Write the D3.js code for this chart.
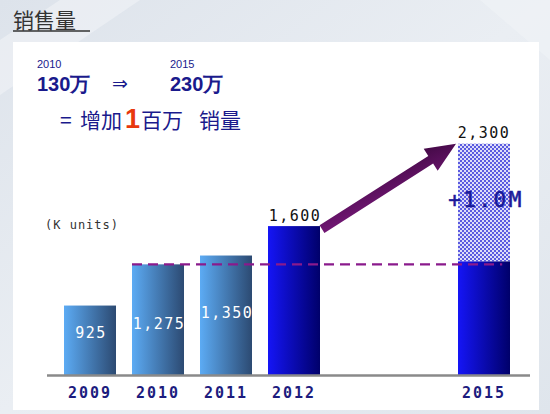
<!DOCTYPE html>
<html><head><meta charset="utf-8">
<script src="https://cdn.jsdelivr.net/npm/d3@7"></script>
<style>html,body{margin:0;padding:0;background:#e4e9f0;}svg{display:block;}text{white-space:pre;}</style>
</head><body>
<svg id="c" width="550" height="414"></svg>
<script>
// ---- data ----
const years = [2009, 2010, 2011, 2012];
const values = [925, 1275, 1350, 1600];
const valueLabels = ["925", "1,275", "1,350", "1,600"];
const targetYear = 2015;
const targetTotal = 2300;
const targetBase = 1300;
const targetLabel = "2,300";
const increaseLabel = "+1.0M";
const unitLabel = "(K units)";
const baselineValue = 1275;

const svg = d3.select("#c");
const defs = svg.append("defs");

// background
const bg = defs.append("linearGradient").attr("id","bg").attr("x1","0").attr("y1","0").attr("x2","1").attr("y2","1");
bg.append("stop").attr("offset","0").attr("stop-color","#dde3eb");
bg.append("stop").attr("offset","0.5").attr("stop-color","#eaeef3");
bg.append("stop").attr("offset","1").attr("stop-color","#dfe5ec");
svg.append("rect").attr("width",550).attr("height",414).attr("fill","url(#bg)");
svg.append("path").attr("d","M0,40 L60,0 L140,0 L0,95 Z").attr("fill","#eef1f5").attr("opacity",0.7);
svg.append("path").attr("d","M480,0 L550,0 L550,60 Z").attr("fill","#f0f3f7").attr("opacity",0.6);
svg.append("rect").attr("x",13).attr("y",42).attr("width",526).attr("height",368).attr("fill","#ffffff");

// gradients
function grad(id, c1, c2){
  const g = defs.append("linearGradient").attr("id",id).attr("x1","0").attr("y1","0").attr("x2","1").attr("y2","0");
  g.append("stop").attr("offset","0").attr("stop-color",c1);
  g.append("stop").attr("offset","1").attr("stop-color",c2);
}
grad("gHist","#5cabf4","#2c4a72");
grad("gNow","#1515f6","#00006a");
const ag = defs.append("linearGradient").attr("id","gArrow").attr("x1","0").attr("y1","1").attr("x2","1").attr("y2","0");
ag.append("stop").attr("offset","0").attr("stop-color","#7c1a7e");
ag.append("stop").attr("offset","1").attr("stop-color","#3f0842");
const pat = defs.append("pattern").attr("id","chk").attr("width",4).attr("height",4).attr("patternUnits","userSpaceOnUse");
pat.append("rect").attr("width",4).attr("height",4).attr("fill","#dcdcf8");
pat.append("rect").attr("width",2).attr("height",2).attr("fill","#5a5ae0");
pat.append("rect").attr("x",2).attr("y",2).attr("width",2).attr("height",2).attr("fill","#5a5ae0");

// header texts
svg.append("text").attr("x",13).attr("y",28).attr("font-family","Noto Sans CJK SC").attr("font-size",21).attr("fill","#333").text("销售量");
svg.append("line").attr("x1",13).attr("x2",90).attr("y1",31).attr("y2",31).attr("stroke","#333").attr("stroke-width",1.5);

const navy = "#1a1a8c";
svg.append("text").attr("x",37).attr("y",68).attr("font-family","Liberation Sans").attr("font-size",11).attr("fill",navy).text("2010");
svg.append("text").attr("x",37).attr("y",91).attr("font-family","Liberation Sans").attr("font-weight","bold").attr("font-size",20).attr("fill",navy).text("130万");
svg.append("text").attr("x",112).attr("y",90).attr("font-family","DejaVu Sans").attr("font-size",19).attr("fill",navy).text("⇒");
svg.append("text").attr("x",170).attr("y",68).attr("font-family","Liberation Sans").attr("font-size",11).attr("fill",navy).text("2015");
svg.append("text").attr("x",170).attr("y",91).attr("font-family","Liberation Sans").attr("font-weight","bold").attr("font-size",20).attr("fill",navy).text("230万");
const t3 = (x0, s, extra) => {
  const t = svg.append("text").attr("x",x0).attr("y",128).attr("font-family","Noto Sans CJK SC").attr("font-size",21).attr("fill",navy).text(s);
  if (extra) extra(t);
  return t;
};
t3(60, "=");
t3(80, "增加");
t3(125, "1", t=>t.attr("fill","#e8380d").attr("font-family","Liberation Sans").attr("font-weight","bold").attr("font-size",27));
t3(141, "百万");
t3(199, "销量");

// scales
const x = d3.scaleLinear().domain([2009, 2012, 2015]).range([64, 268, 458]);
const bw = 52;
const y = d3.scaleLinear().domain([335, 2300]).range([375, 143.7]);
const base = y.range()[0];

const mono = "DejaVu Sans Mono";

// unit label
svg.append("text").attr("x",45).attr("y",229).attr("font-family",mono).attr("font-size",12).attr("letter-spacing",1).attr("fill","#333").text(unitLabel);

// historical bars
const data = years.map((yr,i)=>({yr, v:values[i], lab:valueLabels[i]}));
svg.selectAll("rect.bar").data(data).join("rect").attr("class","bar")
  .attr("x",d=>x(d.yr)).attr("y",d=>y(d.v)).attr("width",bw).attr("height",d=>base-y(d.v))
  .attr("fill",d=>d.yr===2012?"url(#gNow)":"url(#gHist)");

// target bar
svg.append("rect").attr("x",x(targetYear)).attr("y",y(targetTotal)).attr("width",bw).attr("height",y(targetBase)-y(targetTotal)).attr("fill","url(#chk)");
svg.append("rect").attr("x",x(targetYear)).attr("y",y(targetBase)).attr("width",bw).attr("height",base-y(targetBase)).attr("fill","url(#gNow)");

// dashed baseline
svg.append("line").attr("x1",x(2010)).attr("x2",x(targetYear)+bw*0.85).attr("y1",y(baselineValue)).attr("y2",y(baselineValue))
  .attr("stroke","#8a1a8c").attr("stroke-width",2.2).attr("stroke-dasharray","10,6");

// axis line
svg.append("line").attr("x1",47).attr("x2",530).attr("y1",375.5).attr("y2",375.5).attr("stroke","#8a8a8a").attr("stroke-width",2.5);

// year labels
const allYears = years.concat([targetYear]);
svg.selectAll("text.yr").data(allYears).join("text").attr("class","yr")
  .attr("x",d=>x(d)+bw/2).attr("y",398).attr("text-anchor","middle")
  .attr("font-family",mono).attr("font-weight","bold").attr("font-size",15).attr("letter-spacing",2)
  .attr("fill","#1c1c7e").text(d=>d);

// value labels (inside bars for earlier years, above the 2012 bar)
const insideLift = {2009: 37, 2010: 46, 2011: 57};
svg.selectAll("text.val").data(data).join("text").attr("class","val")
  .attr("x",d=>x(d.yr)+bw/2+1)
  .attr("y",d=>d.yr===2012 ? y(d.v)-5 : base-insideLift[d.yr])
  .attr("text-anchor","middle").attr("font-family",mono).attr("font-size",15).attr("letter-spacing",1.5)
  .attr("fill",d=>d.yr===2012?"#111":"#ffffff").text(d=>d.lab);
svg.append("text").attr("x",x(targetYear)+bw/2).attr("y",y(targetTotal)-6).attr("text-anchor","middle")
  .attr("font-family",mono).attr("font-size",15).attr("letter-spacing",1.5).attr("fill","#111").text(targetLabel);
svg.append("text").attr("x",x(targetYear)+bw/2+2).attr("y",207).attr("text-anchor","middle")
  .attr("font-family",mono).attr("font-size",21).attr("letter-spacing",2.5).attr("stroke","#1a1a9a").attr("stroke-width",0.6)
  .attr("fill","#1a1a9a").text(increaseLabel);

// arrow
const sx = x(2012)+bw+2, sy = y(1600)+3, ex = x(targetYear)-2, ey = y(targetTotal);
const ang = Math.atan2(ey-sy, ex-sx), len = Math.hypot(ex-sx, ey-sy);
const sw = 4.5, hw = 13, hl = 30;
const pts = [[0,-sw],[len-hl,-sw],[len-hl,-hw],[len,0],[len-hl,hw],[len-hl,sw],[0,sw]];
svg.append("path")
  .attr("d","M"+pts.map(p=>p.join(",")).join("L")+"Z")
  .attr("transform",`translate(${sx},${sy}) rotate(${ang*180/Math.PI})`)
  .attr("fill","url(#gArrow)");
</script>
</body></html>
